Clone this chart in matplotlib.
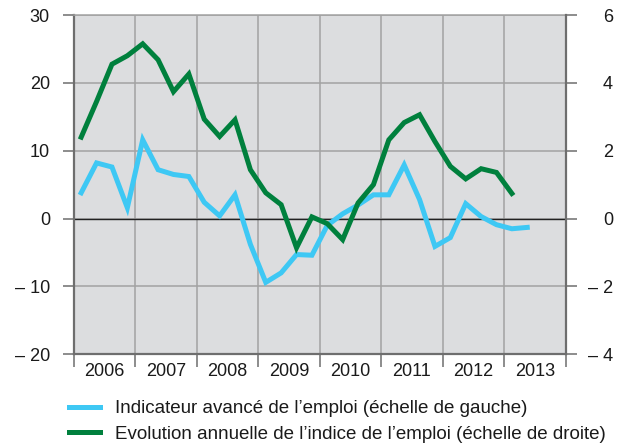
import matplotlib.pyplot as plt
import numpy as np

plt.rcParams['font.family'] = ['Liberation Sans', 'DejaVu Sans']

# quarterly values, first point is Q1 2006
indicateur = [3.8, 8.2, 7.6, 1.6, 11.6, 7.2, 6.5, 6.2, 2.4, 0.4, 3.5, -3.8,
              -9.4, -8.0, -5.3, -5.4, -1.0, 0.7, 2.0, 3.5, 3.5, 7.9, 2.8, -4.1,
              -2.8, 2.2, 0.3, -0.9, -1.5, -1.3]
evolution = [2.4, 3.45, 4.55, 4.8, 5.15, 4.68, 3.74, 4.26, 2.93, 2.42, 2.91, 1.44,
             0.76, 0.41, -0.86, 0.05, -0.15, -0.62, 0.46, 1.0, 2.32, 2.83, 3.06, 2.27,
             1.54, 1.17, 1.47, 1.36, 0.74]
years = [2006, 2007, 2008, 2009, 2010, 2011, 2012, 2013]
left_ticks = [-20, -10, 0, 10, 20, 30]
left_labels = ['– 20', '– 10', '0', '10', '20', '30']
right_ticks = [-4, -2, 0, 2, 4, 6]
right_labels = ['– 4', '– 2', '0', '2', '4', '6']
lbl_blue = "Indicateur avancé de l’emploi (échelle de gauche)"
lbl_green = "Evolution annuelle de l’indice de l’emploi (échelle de droite)"

blue = '#3ec8f4'
green = '#00803d'
spine_col = '#6e6e6e'
grid_col = '#a2a2a2'

x_blue = years[0] + 0.125 + 0.25 * np.arange(len(indicateur))
x_green = years[0] + 0.125 + 0.25 * np.arange(len(evolution))

fig = plt.figure(figsize=(6.24, 4.46), dpi=100)
ax = fig.add_axes([73.5/624, 1 - 354.3/446, (565.7-73.5)/624, (354.3-15)/446])
ax.set_facecolor('#dcdddf')

ax.set_xlim(years[0], years[-1] + 1)
ax.set_ylim(-20, 30)
ax.set_xticks(np.arange(years[0], years[-1] + 2))
ax.set_xticklabels([])
ax.set_xticks(np.array(years) + 0.5, minor=True)
ax.set_xticklabels([str(y) for y in years], minor=True)
ax.set_yticks(left_ticks)
ax.set_yticklabels(left_labels)

ax.grid(True, which='major', color=grid_col, lw=1.1)
ax.set_axisbelow(True)
ax.axhline(0, color='#222222', lw=1.0, zorder=1.5)

ax.tick_params(axis='x', which='major', direction='out', length=9, width=1.1, color=spine_col)
ax.tick_params(axis='x', which='minor', length=0, pad=6, labelsize=13, labelcolor='#1a1a1a')
ax.tick_params(axis='y', direction='out', length=8, width=1.1, color=spine_col, pad=9,
               labelsize=13, labelcolor='#1a1a1a')

for s in ['left', 'bottom']:
    ax.spines[s].set_color(spine_col)
    ax.spines[s].set_linewidth(1.6)
ax.spines['top'].set_color(grid_col)
ax.spines['top'].set_linewidth(1.1)
ax.spines['right'].set_visible(False)

l1, = ax.plot(x_blue, indicateur, color=blue, lw=3.6, solid_joinstyle='miter', zorder=3)

ax2 = ax.twinx()
ax2.set_ylim(-4, 6)
ax2.set_yticks(right_ticks)
ax2.set_yticklabels(right_labels, ha='right')
ax2.tick_params(axis='y', direction='out', length=8, width=1.1, color=spine_col, pad=26,
                labelsize=13, labelcolor='#1a1a1a')
for s in ['left', 'top', 'bottom']:
    ax2.spines[s].set_visible(False)
ax2.spines['right'].set_color(spine_col)
ax2.spines['right'].set_linewidth(1.6)

l2, = ax2.plot(x_green, evolution, color=green, lw=3.6, solid_joinstyle='miter', zorder=3)

fig.legend([l1, l2], [lbl_blue, lbl_green], loc='upper left',
           bbox_to_anchor=(69/624, 1 - 400/446), frameon=False, fontsize=13.5,
           handlelength=1.65, handletextpad=0.8, labelspacing=0.45,
           borderpad=0, borderaxespad=0, labelcolor='#1a1a1a')

fig.savefig('out.png', dpi=100)
